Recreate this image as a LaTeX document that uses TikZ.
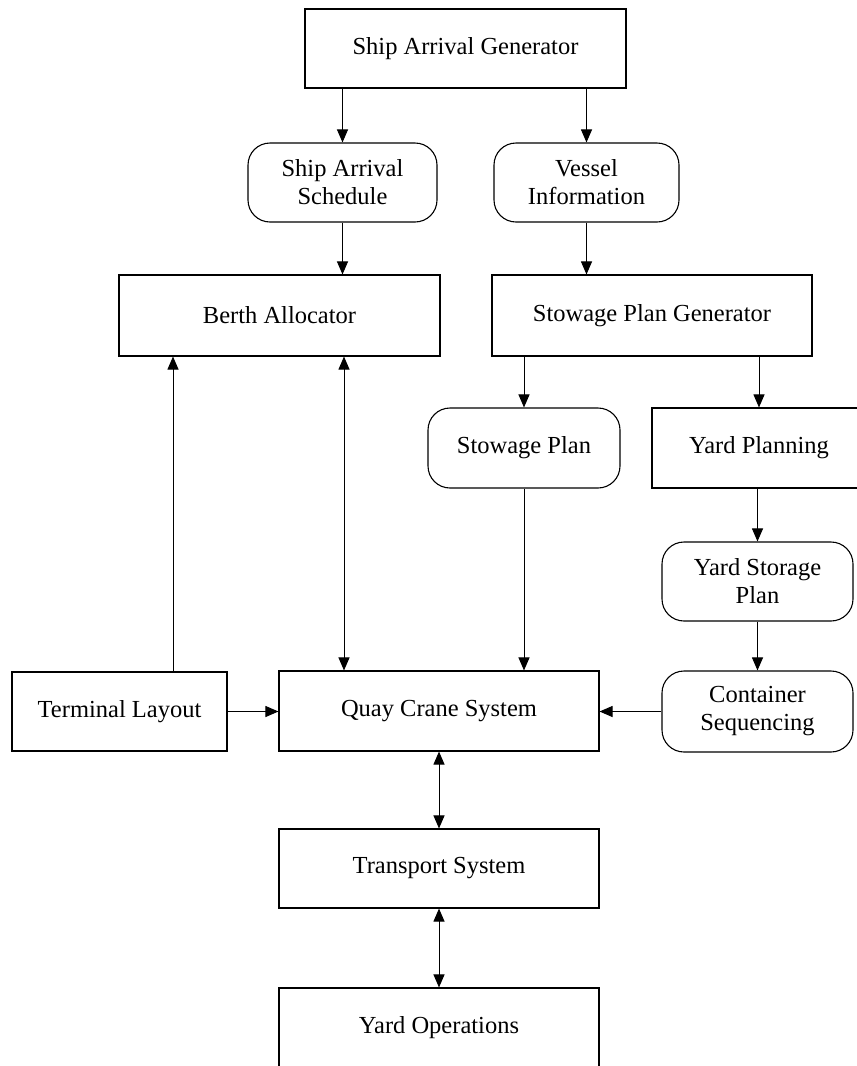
\documentclass[tikz,border=0pt]{standalone}
\usepackage{fontspec}
\setmainfont{Liberation Serif}
\usetikzlibrary{arrows.meta}
\begin{document}
\begin{tikzpicture}[x=1pt,y=-1pt,
  box/.style={draw, line width=1.1pt, inner sep=0pt, align=center,
    font=\fontsize{24.5}{28}\selectfont},
  rbox/.style={box, rounded corners=22pt},
  conn/.style={line width=1pt, -{Triangle[length=13pt,width=11pt]}},
  bconn/.style={line width=1pt, {Triangle[length=13pt,width=11pt]}-{Triangle[length=13pt,width=11pt]}}
]
\useasboundingbox (0,0) rectangle (857,1066);
\clip (0,0) rectangle (857,1066);

\node[box, minimum width=321pt, minimum height=79pt] (sag) at (465.5,48.5) {Ship Arrival Generator};
\node[rbox, minimum width=189pt, minimum height=79pt] (sas) at (342.5,182.5) {Ship Arrival\\Schedule};
\node[rbox, minimum width=185pt, minimum height=79pt] (vi) at (586.5,182.5) {Vessel\\Information};
\node[box, minimum width=321pt, minimum height=81pt] (ba) at (279.5,315.5) {Berth Allocator};
\node[box, minimum width=320pt, minimum height=81pt] (spg) at (652,315.5) {Stowage Plan Generator};
\node[rbox, minimum width=192pt, minimum height=80pt] (sp) at (524,448) {Stowage Plan};
\node[box, minimum width=214pt, minimum height=80pt] (yp) at (759,448) {Yard Planning};
\node[rbox, minimum width=191pt, minimum height=79pt] (ysp) at (757.5,581.5) {Yard Storage\\Plan};
\node[rbox, minimum width=191pt, minimum height=81pt] (cs) at (757.5,711.5) {Container\\Sequencing};
\node[box, minimum width=215pt, minimum height=79pt] (tl) at (119.5,711.5) {Terminal Layout};
\node[box, minimum width=320pt, minimum height=80pt] (qcs) at (439,711) {Quay Crane System};
\node[box, minimum width=320pt, minimum height=79pt] (ts) at (439,868.5) {Transport System};
\node[box, minimum width=320pt, minimum height=80pt] (yo) at (439,1028) {Yard Operations};

\coordinate (tlx) at (173,0);
\coordinate (bqx) at (344,0);

\draw[conn] (sas.north |- sag.south) -- (sas.north);
\draw[conn] (vi.north |- sag.south) -- (vi.north);
\draw[conn] (sas.south) -- (sas.south |- ba.north);
\draw[conn] (vi.south) -- (vi.south |- spg.north);
\draw[conn] (sp.north |- spg.south) -- (sp.north);
\draw[conn] (yp.north |- spg.south) -- (yp.north);
\draw[conn] (sp.south) -- (sp.south |- qcs.north);
\draw[conn] (ysp.north |- yp.south) -- (ysp.north);
\draw[conn] (ysp.south) -- (cs.north);
\draw[conn] (cs.west) -- (qcs.east |- cs.west);
\draw[conn] (tl.east) -- (qcs.west |- tl.east);
\draw[conn] (tl.north -| tlx) -- (ba.south -| tlx);
\draw[bconn] (ba.south -| bqx) -- (qcs.north -| bqx);
\draw[bconn] (qcs.south) -- (ts.north);
\draw[bconn] (ts.south) -- (yo.north);
\end{tikzpicture}
\end{document}
